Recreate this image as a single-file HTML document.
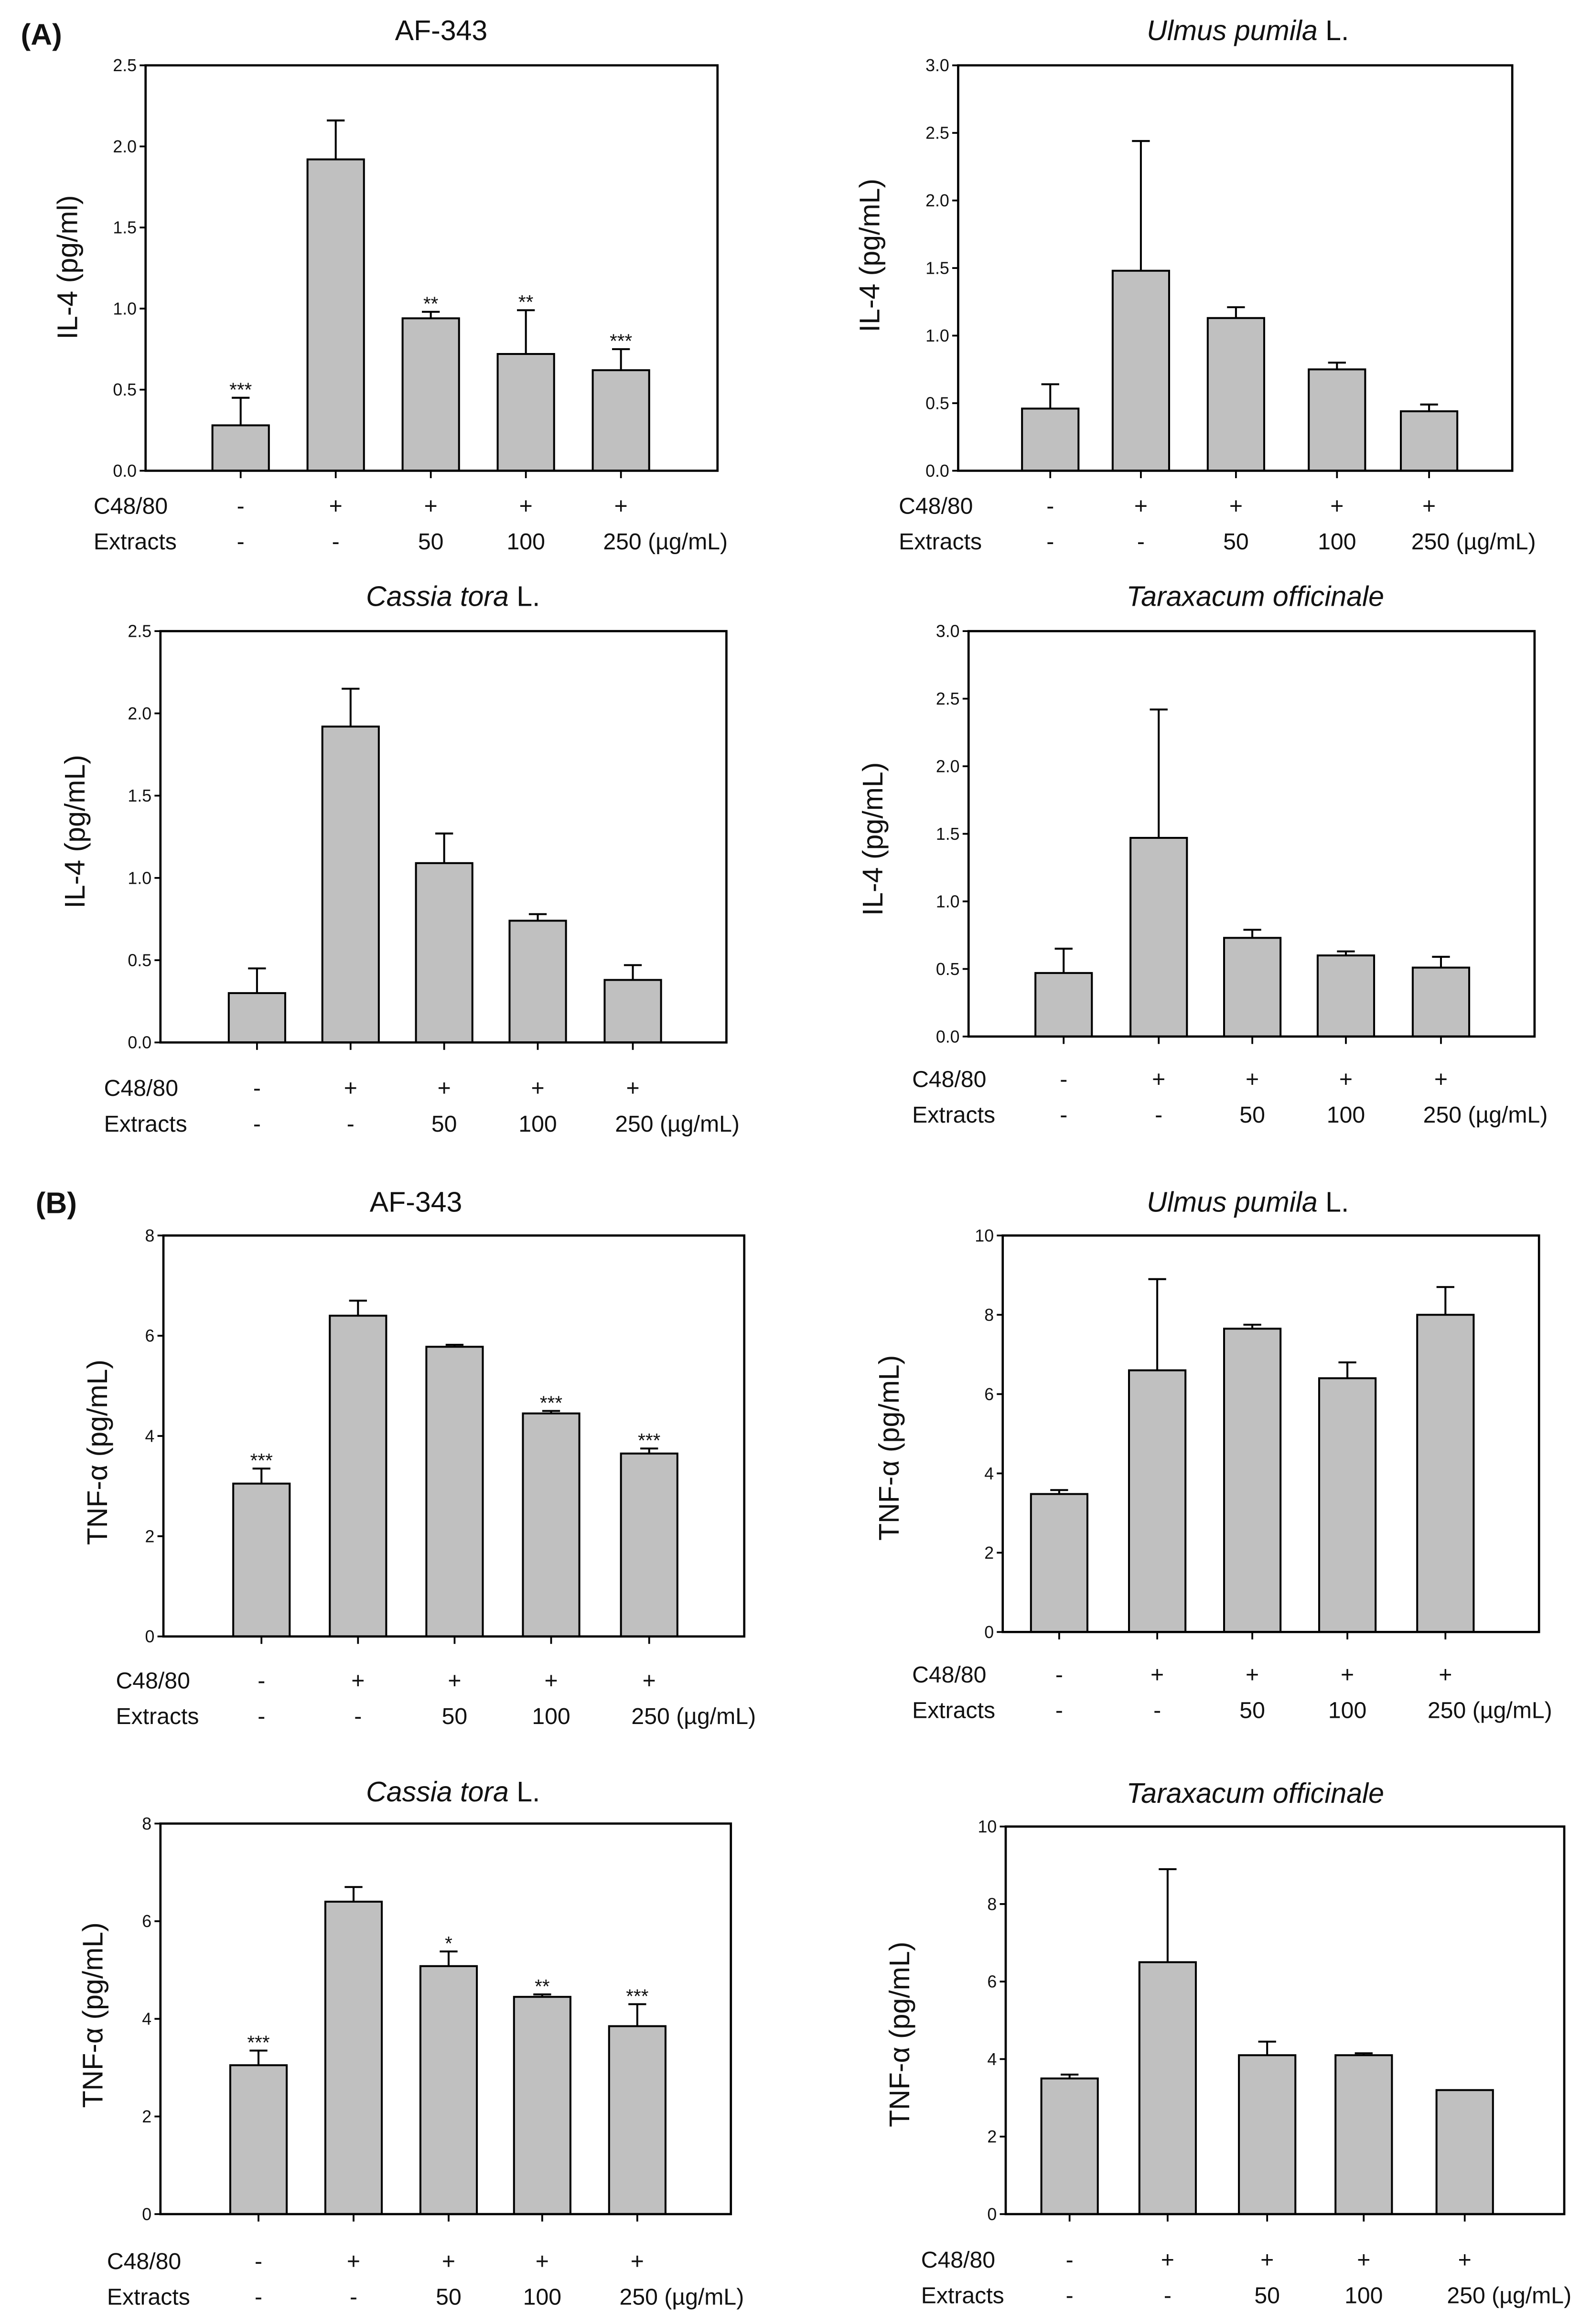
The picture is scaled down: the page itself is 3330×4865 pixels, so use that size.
<!DOCTYPE html>
<html><head><meta charset="utf-8"><style>
html,body{margin:0;padding:0;background:#fff;}
svg{display:block;}
text{font-family:"Liberation Sans",sans-serif;fill:#111;}
</style></head><body>
<svg id="fig" width="3330" height="4865" viewBox="0 0 1071 1565" preserveAspectRatio="none" xmlns="http://www.w3.org/2000/svg">
<text x="14" y="30" font-size="20" font-weight="bold">(A)</text>
<text x="24" y="817" font-size="20" font-weight="bold">(B)</text>
</svg>
<script>
const il4AfValues=[0.28,1.92,0.94,0.72,0.62];
const il4AfErrors=[0.17,0.24,0.04,0.27,0.13];
const il4AfStars=["***","","**","**","***"];
const il4UlValues=[0.46,1.48,1.13,0.75,0.44];
const il4UlErrors=[0.18,0.96,0.08,0.05,0.05];
const il4CtValues=[0.30,1.92,1.09,0.74,0.38];
const il4CtErrors=[0.15,0.23,0.18,0.04,0.09];
const il4ToValues=[0.47,1.47,0.73,0.60,0.51];
const il4ToErrors=[0.18,0.95,0.06,0.03,0.08];
const tnfAfValues=[3.05,6.4,5.78,4.45,3.65];
const tnfAfErrors=[0.3,0.3,0.04,0.05,0.1];
const tnfAfStars=["***","","","***","***"];
const tnfUlValues=[3.48,6.6,7.65,6.4,8.0];
const tnfUlErrors=[0.1,2.3,0.1,0.4,0.7];
const tnfCtValues=[3.05,6.4,5.08,4.45,3.85];
const tnfCtErrors=[0.3,0.3,0.3,0.05,0.45];
const tnfCtStars=["***","","*","**","***"];
const tnfToValues=[3.5,6.5,4.1,4.1,3.2];
const tnfToErrors=[0.1,2.4,0.35,0.05,0];
const noStars=["","","","",""];
const c48Labels=["-","+","+","+","+"];
const extractLabels=["-","-","50","100","250 (\u00b5g/mL)"];
const ticks25=["0.0","0.5","1.0","1.5","2.0","2.5"];
const ticks30=["0.0","0.5","1.0","1.5","2.0","2.5","3.0"];
const ticks8=["0","2","4","6","8"];
const ticks10=["0","2","4","6","8","10"];

const NS="http://www.w3.org/2000/svg";
const svg=document.getElementById('fig');
function mk(tag,attrs,parent){const e=document.createElementNS(NS,tag);for(const k in attrs)e.setAttribute(k,attrs[k]);(parent||svg).appendChild(e);return e;}

const panels=[
{id:'il4-af',x0:98,x1:483,y0:44,y1:317,ticks:ticks25,vals:il4AfValues,errs:il4AfErrors,stars:il4AfStars,cx:[162,226,290,354,418],title:['AF-343',''],tx:297,ty:27,lx:63,ly:346,yt:'IL-4 (pg/ml)',ytx:52,yty:180},
{id:'il4-ul',x0:645,x1:1018,y0:44,y1:317,ticks:ticks30,vals:il4UlValues,errs:il4UlErrors,stars:noStars,cx:[707,768,832,900,962],title:['Ulmus pumila',' L.'],tx:840,ty:27,lx:605,ly:346,yt:'IL-4 (pg/mL)',ytx:592,yty:172},
{id:'il4-ct',x0:108,x1:489,y0:425,y1:702,ticks:ticks25,vals:il4CtValues,errs:il4CtErrors,stars:noStars,cx:[173,236,299,362,426],title:['Cassia tora',' L.'],tx:305,ty:408,lx:70,ly:738,yt:'IL-4 (pg/mL)',ytx:57,yty:560},
{id:'il4-to',x0:652,x1:1033,y0:425,y1:698,ticks:ticks30,vals:il4ToValues,errs:il4ToErrors,stars:noStars,cx:[716,780,843,906,970],title:['Taraxacum officinale',''],tx:845,ty:408,lx:614,ly:732,yt:'IL-4 (pg/mL)',ytx:594,yty:565},
{id:'tnf-af',x0:110,x1:501,y0:832,y1:1102,ticks:ticks8,vals:tnfAfValues,errs:tnfAfErrors,stars:tnfAfStars,cx:[176,241,306,371,437],title:['AF-343',''],tx:280,ty:816,lx:78,ly:1137,yt:'TNF-\u03b1 (pg/mL)',ytx:72,yty:978},
{id:'tnf-ul',x0:675,x1:1036,y0:832,y1:1099,ticks:ticks10,vals:tnfUlValues,errs:tnfUlErrors,stars:noStars,cx:[713,779,843,907,973],title:['Ulmus pumila',' L.'],tx:840,ty:816,lx:614,ly:1133,yt:'TNF-\u03b1 (pg/mL)',ytx:605,yty:975},
{id:'tnf-ct',x0:108,x1:492,y0:1228,y1:1491,ticks:ticks8,vals:tnfCtValues,errs:tnfCtErrors,stars:tnfCtStars,cx:[174,238,302,365,429],title:['Cassia tora',' L.'],tx:305,ty:1213,lx:72,ly:1528,yt:'TNF-\u03b1 (pg/mL)',ytx:69,yty:1357},
{id:'tnf-to',x0:677,x1:1053,y0:1230,y1:1491,ticks:ticks10,vals:tnfToValues,errs:tnfToErrors,stars:noStars,cx:[720,786,853,918,986],title:['Taraxacum officinale',''],tx:845,ty:1214,lx:620,ly:1527,yt:'TNF-\u03b1 (pg/mL)',ytx:612,yty:1370}
];

panels.forEach(p=>{
  const g=mk('g',{});
  
  
  const ymax=parseFloat(p.ticks[p.ticks.length-1]);
  const Y=v=>p.y1-(v/ymax)*(p.y1-p.y0);
  const bw=38;
  p.vals.forEach((v,i)=>{
    const c=p.cx[i];
    const top=Y(v+p.errs[i]);
    if(p.errs[i]>0){
      const el=mk('line',{x1:c,x2:c,y1:Y(v),y2:top,stroke:'#000','stroke-width':1.3},g);
      
      
      mk('line',{x1:c-6,x2:c+6,y1:top,y2:top,stroke:'#000','stroke-width':1.3},g);
    }
    const b=mk('rect',{x:c-bw/2,y:Y(v),width:bw,height:p.y1-Y(v),fill:'#c0c0c0',stroke:'#000','stroke-width':1.3},g);
    
    
    if(p.stars[i]){
      const s=mk('text',{x:c,y:top-1,'font-size':13,'text-anchor':'middle'},g);
      s.textContent=p.stars[i];
      
      
    }
    mk('line',{x1:c,x2:c,y1:p.y1,y2:p.y1+5,stroke:'#000','stroke-width':1.2},g);
    const t1=mk('text',{x:c,y:p.ly,'font-size':15.5,'text-anchor':'middle'},g);
    t1.textContent=c48Labels[i];
    
    
    const t2=mk('text',{x:i==4?c-12:c,y:p.ly+24,'font-size':15.5,'text-anchor':i==4?'start':'middle'},g);
    t2.textContent=extractLabels[i];
    
    
  });
  const f=mk('rect',{x:p.x0,y:p.y0,width:p.x1-p.x0,height:p.y1-p.y0,fill:'none',stroke:'#000','stroke-width':1.5},g);
  
  
  p.ticks.forEach(t=>{
    const y=Y(parseFloat(t));
    mk('line',{x1:p.x0-4,x2:p.x0,y1:y,y2:y,stroke:'#000','stroke-width':1.2},g);
    const tl=mk('text',{x:p.x0-6,y:y+4,'font-size':11.5,'text-anchor':'end'},g);
    tl.textContent=t;
    
    
  });
  const r1=mk('text',{x:p.lx,y:p.ly,'font-size':15.5},g);r1.textContent='C48/80';
  
  
  const r2=mk('text',{x:p.lx,y:p.ly+24,'font-size':15.5},g);r2.textContent='Extracts';
  
  
  const tt=mk('text',{x:p.tx,y:p.ty,'font-size':19,'text-anchor':'middle'},g);
  
  
  if(p.title[1]||p.title[0]!=='AF-343'){
    const a=mk('tspan',{'font-style':'italic'},tt);a.textContent=p.title[0];
    if(p.title[1]){const b2=mk('tspan',{},tt);b2.textContent=p.title[1];}
  } else tt.textContent=p.title[0];
  const yt=mk('text',{x:p.ytx,y:p.yty,'font-size':19,'text-anchor':'middle',transform:`rotate(-90 ${p.ytx} ${p.yty})`},g);
  yt.textContent=p.yt;
  
  
});
</script>
</body></html>
